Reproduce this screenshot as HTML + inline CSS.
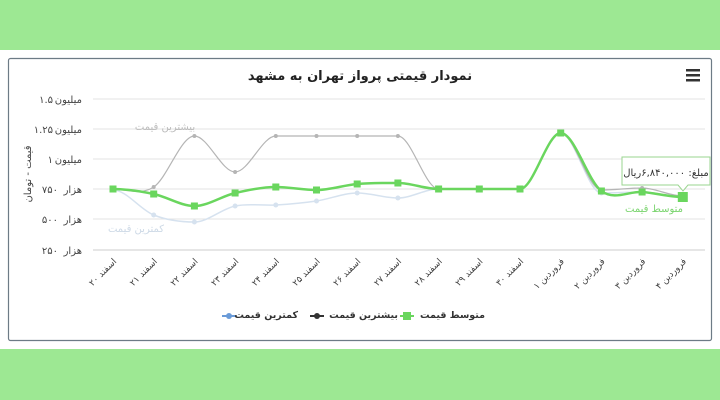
<!DOCTYPE html>
<html><head><meta charset="utf-8"><style>
body{margin:0;width:720px;height:400px;background:#9de893;overflow:hidden;font-family:"DejaVu Sans","Liberation Sans",sans-serif}
#w{position:absolute;left:0;top:50px;width:720px;height:299px;background:#fff}
svg{position:absolute;left:0;top:0}
text{font-family:"DejaVu Sans","Liberation Sans",sans-serif}
.lg{position:absolute;top:309px;font-size:9.5px;font-weight:bold;color:#333;direction:rtl;white-space:nowrap;line-height:14px}
.tt{position:absolute;left:622px;top:167px;width:88px;text-align:center;font-size:10px;color:#333;direction:rtl;white-space:nowrap;line-height:14px}
</style></head><body>
<div id="w"></div>
<svg width="720" height="400" id="s">
<rect x="8.5" y="58.5" width="703" height="282" fill="#fff" stroke="#6d7b86" stroke-width="1.2" rx="2"/>
<text x="360" y="80" text-anchor="middle" font-size="13" font-weight="bold" fill="#222">نمودار قیمتی پرواز تهران به مشهد</text>
<g fill="#333"><rect x="686" y="69" width="14" height="2.5"/><rect x="686" y="74" width="14" height="2.5"/><rect x="686" y="79" width="14" height="2.5"/></g>
<g stroke="#e3e3e3" stroke-width="1">
<line x1="93" x2="705" y1="99" y2="99"/><line x1="93" x2="705" y1="129" y2="129"/><line x1="93" x2="705" y1="159" y2="159"/><line x1="93" x2="705" y1="189" y2="189"/><line x1="93" x2="705" y1="219" y2="219"/><line x1="93" x2="705" y1="250" y2="250" stroke="#ccc"/></g>
<g font-size="10" fill="#444" text-anchor="end">
<text x="82" y="103">میلیون</text><text x="53" y="103">۱.۵</text>
<text x="82" y="133">میلیون</text><text x="53" y="133">۱.۲۵</text>
<text x="82" y="163">میلیون</text><text x="53" y="163">۱</text>
<text x="82" y="193">هزار</text><text x="58" y="193">۷۵۰</text>
<text x="82" y="223">هزار</text><text x="58" y="223">۵۰۰</text>
<text x="82" y="254">هزار</text><text x="58" y="254">۲۵۰</text></g>
<text transform="translate(31,174) rotate(-90)" font-size="10" fill="#444" text-anchor="middle">قیمت - تومان</text>
<text x="165" y="130" font-size="10" fill="#bbb" text-anchor="middle">بیشترین قیمت</text>
<text x="136" y="232" font-size="10" fill="#cdd9e6" text-anchor="middle">کمترین قیمت</text>
<g id="xl" font-size="9" fill="#444"></g>
<g id="ser"></g>
<line x1="400" x2="414" y1="316" y2="316" stroke="#6ad65e" stroke-width="2"/><rect x="403" y="312" width="8" height="8" fill="#6ad65e"/>
<line x1="310" x2="324" y1="316" y2="316" stroke="#333" stroke-width="2"/><circle cx="317" cy="316" r="3" fill="#333"/>
<line x1="222" x2="236" y1="316" y2="316" stroke="#6a9bd8" stroke-width="2"/><circle cx="229" cy="316" r="3" fill="#6a9bd8"/>
<text x="683" y="212" font-size="10" fill="#7ad46e" text-anchor="end">متوسط قیمت</text>
<path d="M622 157 H710 V185 H688 L683 191 L678 185 H622 Z" fill="#fff" stroke="#9ad58f" stroke-width="1"/>
</svg>
<div class="lg" style="right:235px">متوسط قیمت</div>
<div class="lg" style="right:322px">بیشترین قیمت</div>
<div class="lg" style="right:422px">کمترین قیمت</div>
<div class="tt">مبلغ: ۶,۸۴۰,۰۰۰ریال</div>
<script>
var xs=[],names=["اسفند ۲۰","اسفند ۲۱","اسفند ۲۲","اسفند ۲۳","اسفند ۲۴","اسفند ۲۵","اسفند ۲۶","اسفند ۲۷","اسفند ۲۸","اسفند ۲۹","اسفند ۳۰","فروردین ۱","فروردین ۲","فروردین ۳","فروردین ۴"];
for(var i=0;i<15;i++)xs.push(113+i*40.7);
var mx=[189,187,136,172,136,136,136,136,189,189,189,133,190,188,196];
var av=[189,194,206,193,187,190,184,183,189,189,189,133,191,192,197];
var mn=[190,215,222,206,205,201,193,198,189,189,189,133,193,192,197];
function path(y){var d="M"+xs[0]+" "+y[0];for(var i=0;i<y.length-1;i++){var p0=i?i-1:i,p3=i+2<y.length?i+2:i+1;
var s1=(y[i+1]-y[p0])/6,s2=(y[p3]-y[i])/6;
if((y[i]-y[p0])*(y[i+1]-y[i])<=0)s1=0;
if((y[i+1]-y[i])*(y[p3]-y[i+1])<=0)s2=0;
var c1x=xs[i]+13.5,c1y=y[i]+s1,c2x=xs[i+1]-13.5,c2y=y[i+1]-s2;
d+=" C"+c1x+" "+c1y+" "+c2x+" "+c2y+" "+xs[i+1]+" "+y[i+1];}return d;}
var h="";
h+='<path d="'+path(mn)+'" fill="none" stroke="#d6e2ef" stroke-width="1.5"/>';
mn.forEach(function(y,i){h+='<circle cx="'+xs[i]+'" cy="'+y+'" r="2.5" fill="#d6e2ef"/>'});
h+='<path d="'+path(mx)+'" fill="none" stroke="#b5b5b5" stroke-width="1.2"/>';
mx.forEach(function(y,i){h+='<circle cx="'+xs[i]+'" cy="'+y+'" r="2" fill="#b5b5b5"/>'});
h+='<path d="'+path(av)+'" fill="none" stroke="#6ad65e" stroke-width="2.5"/>';
av.forEach(function(y,i){var s=i==14?10:7;h+='<rect x="'+(xs[i]-s/2)+'" y="'+(y-s/2)+'" width="'+s+'" height="'+s+'" fill="#6ad65e"/>'});
document.getElementById("ser").innerHTML=h;
var t="";names.forEach(function(n,i){t+='<text transform="translate('+(xs[i]+4)+',262) rotate(-45)" text-anchor="end">'+n+'</text>'});
document.getElementById("xl").innerHTML=t;
</script>
</body></html>
